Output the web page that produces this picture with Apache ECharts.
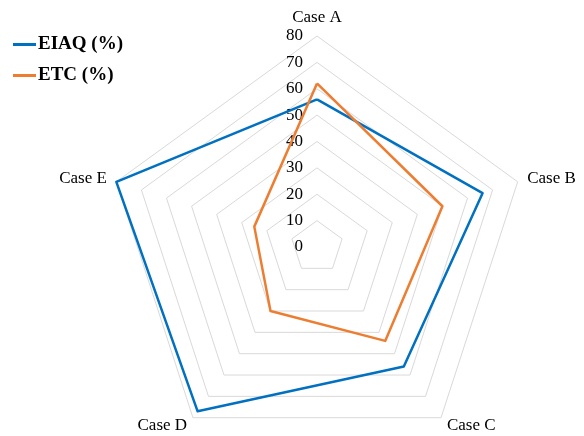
<!DOCTYPE html>
<html>
<head>
<meta charset="utf-8">
<style>
  html, body { margin: 0; padding: 0; background: #ffffff; }
  #chart { width: 584px; height: 436px; }
</style>
<script src="https://cdn.jsdelivr.net/npm/echarts@6/dist/echarts.min.js"></script>
</head>
<body>
<div id="chart"></div>
<script>
// Cases on the radar axes, clockwise from the top
const cases = ['Case A', 'Case B', 'Case C', 'Case D', 'Case E'];
// Series values (%)
const eiaq = [56, 66, 56, 77, 80];
const etc = [62, 50, 44, 30, 25];
// Scale of every axis
const axisMax = 80;
const axisStep = 10;

const serif = '"Liberation Serif", "Times New Roman", serif';

// ECharts lays radar axes out counter-clockwise, so keep the first case on top
// and walk the rest in reverse to get a clockwise A-B-C-D-E layout.
const order = [0].concat(cases.slice(1).map((_, i) => cases.length - 1 - i));
const pick = arr => order.map(i => arr[i]);

const chart = echarts.init(document.getElementById('chart'));

const indicator = pick(cases).map((name, i) => {
  const ind = { name: name, min: 0, max: axisMax };
  if (i === 0) ind.axisLabel = { show: true };
  return ind;
});

chart.setOption({
  animation: false,
  backgroundColor: '#ffffff',
  legend: {
    orient: 'vertical',
    left: 13,
    top: 35,
    padding: 0,
    itemGap: 12,
    itemWidth: 23,
    itemHeight: 3,
    icon: 'rect',
    textStyle: { fontFamily: serif, fontSize: 19, fontWeight: 'bold', color: '#000', padding: [0, 0, 0, -3] },
    data: ['EIAQ (%)', 'ETC (%)']
  },
  radar: {
    center: [317, 247],
    radius: 211,
    shape: 'polygon',
    startAngle: 90,
    splitNumber: axisMax / axisStep,
    indicator: indicator,
    nameGap: 10,
    axisName: { color: '#000', fontFamily: serif, fontSize: 17 },
    axisLine: { show: false },
    axisTick: { show: false },
    axisLabel: {
      show: false,
      color: '#000',
      fontFamily: serif,
      fontSize: 17,
      margin: 14
    },
    splitLine: { lineStyle: { color: '#d9d9d9', width: 1 } },
    splitArea: { show: false }
  },
  series: [{
    type: 'radar',
    symbol: 'none',
    data: [
      { name: 'EIAQ (%)', value: pick(eiaq), lineStyle: { color: '#0070c0', width: 2.5 }, itemStyle: { color: '#0070c0' } },
      { name: 'ETC (%)', value: pick(etc), lineStyle: { color: '#ed7d31', width: 2.5 }, itemStyle: { color: '#ed7d31' } }
    ]
  }]
});
</script>
</body>
</html>
